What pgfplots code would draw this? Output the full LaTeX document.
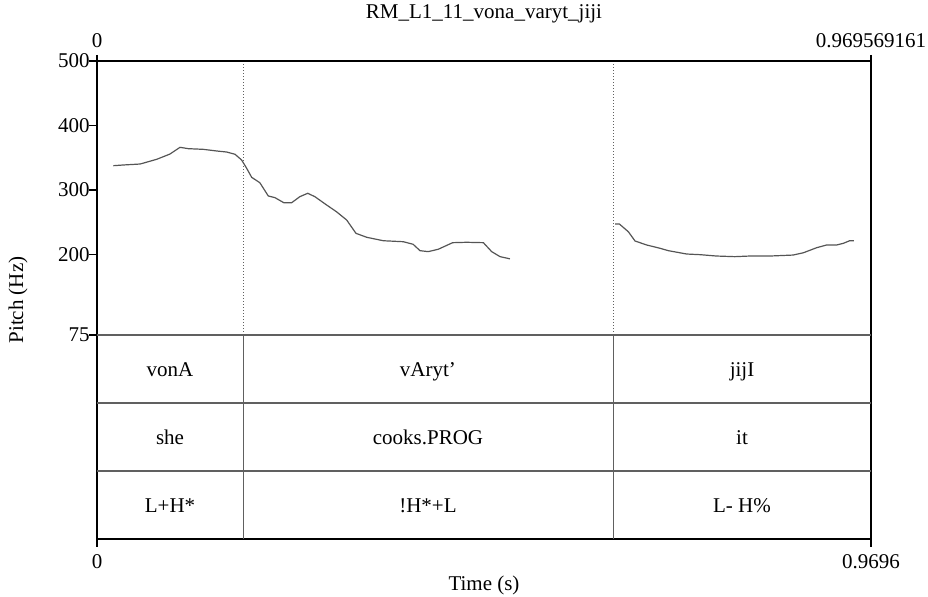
\documentclass[border=0pt]{standalone}
\usepackage{fontspec}
\setmainfont{Liberation Serif}
\usepackage{pgfplots}
\pgfplotsset{compat=1.18}
\definecolor{curve}{HTML}{555555}
\definecolor{tier}{HTML}{606060}
\begin{document}
\fontsize{10.5}{12.6}\selectfont
\begin{tikzpicture}
\useasboundingbox (-48.5pt,-29pt) rectangle (415.5pt,269.5pt);
\begin{axis}[
  at={(0pt,0pt)}, anchor=south west,
  scale only axis, width=387pt, height=239pt,
  xmin=0, xmax=0.969569161, ymin=-241.4, ymax=500,
  clip=false,
  axis line style={black, line width=0.8pt},
  xtick={0,0.969569161}, xticklabels={0,0.9696},
  xtick pos=bottom,
  ytick={75,200,300,400,500}, ytick pos=left,
  tick align=outside, major tick length=4pt,
  tick style={black, line width=0.6pt},
  /pgf/number format/assume math mode=true,
  xticklabel style={font=\fontsize{10.5}{12.6}\selectfont, yshift=0pt},
  yticklabel style={font=\fontsize{10.5}{12.6}\selectfont, xshift=4pt},
  xlabel={Time (s)}, ylabel={Pitch (Hz)},
  xlabel style={at={(axis description cs:0.5,-0.097)}, anchor=center, font=\fontsize{10.5}{12.6}\selectfont},
  ylabel style={at={(axis description cs:-0.102,0.5)}, anchor=center, font=\fontsize{10.5}{12.6}\selectfont},
  title={RM\_L1\_11\_vona\_varyt\_jiji},
  every axis title shift=0pt,
  title style={at={(axis description cs:0.5,1.0983)}, anchor=center, font=\fontsize{10.5}{12.6}\selectfont},
]
% tier horizontal lines
\addplot[tier, line width=0.7pt] coordinates {(0,75) (0.969569161,75)};
\addplot[tier, line width=0.7pt] coordinates {(0,-30.5) (0.969569161,-30.5)};
\addplot[tier, line width=0.7pt] coordinates {(0,-136) (0.969569161,-136)};
% boundaries
\addplot[tier, line width=0.4pt] coordinates {(0.1829,-241.4) (0.1829,75)};
\addplot[tier, line width=0.4pt] coordinates {(0.6464,-241.4) (0.6464,75)};
\addplot[tier, line width=0.5pt, densely dotted] coordinates {(0.1829,75) (0.1829,500)};
\addplot[tier, line width=0.5pt, densely dotted] coordinates {(0.6464,75) (0.6464,500)};
% pitch
\addplot[curve, line width=0.6pt] coordinates {
(0.0204,337.6) (0.033,338.7) (0.054,340.2) (0.0748,347.5) (0.0914,355.7)
(0.104,366.1) (0.1144,364.0) (0.133,363.0) (0.150,360.4) (0.1625,358.8)
(0.1729,355.3) (0.1812,346.4) (0.1875,333.5) (0.1938,319.5) (0.204,311.2)
(0.2146,290.6) (0.223,288.0) (0.234,280.2) (0.2439,280.2) (0.254,289.5)
(0.264,294.8) (0.273,289.5) (0.2877,276.6) (0.300,266.2) (0.3128,253.3)
(0.3244,232.7) (0.338,226.5) (0.3587,221.2) (0.3837,219.7) (0.396,215.7)
(0.4046,205.8) (0.415,204.3) (0.4275,208.0) (0.4455,218.2) (0.463,218.8)
(0.484,218.2) (0.4944,204.3) (0.5048,196.6) (0.5173,193.1)
};
\addplot[curve, line width=0.6pt] coordinates {
(0.6489,247.2) (0.6543,247.2) (0.6656,235.2) (0.674,220.8) (0.6886,214.6)
(0.7053,209.5) (0.7157,205.8) (0.7387,200.6) (0.7554,199.6) (0.776,197.5)
(0.799,196.5) (0.818,197.5) (0.843,197.5) (0.872,199.0) (0.885,202.6)
(0.9015,210.4) (0.914,214.6) (0.9265,214.6) (0.935,217.2) (0.943,221.3)
(0.948,221.3)
};
% tier labels
\tikzset{tl/.style={anchor=base, yshift=-3.6pt, inner sep=0pt}}
\node[tl] at (axis cs:0.0915,22.3) {vonA};
\node[tl] at (axis cs:0.4146,22.3) {vAryt’};
\node[tl] at (axis cs:0.808,22.3) {jijI};
\node[tl] at (axis cs:0.0915,-83.2) {she};
\node[tl] at (axis cs:0.4146,-83.2) {cooks.PROG};
\node[tl] at (axis cs:0.808,-83.2) {it};
\node[tl] at (axis cs:0.0915,-188.7) {L+H*};
\node[tl] at (axis cs:0.4146,-188.7) {!H*+L};
\node[tl] at (axis cs:0.808,-188.7) {L- H\%};
\end{axis}
\begin{axis}[
  at={(0pt,0pt)}, anchor=south west,
  scale only axis, width=387pt, height=239pt,
  xmin=0, xmax=0.969569161, ymin=-241.4, ymax=500,
  axis x line*=top, hide y axis,
  axis line style={black, line width=0.8pt},
  xtick={0,0.969569161}, xticklabels={0,0.969569161},
  tick align=outside, major tick length=3pt,
  tick style={black, line width=0.6pt},
  /pgf/number format/assume math mode=true,
  xticklabel style={font=\fontsize{10.5}{12.6}\selectfont},
]
\end{axis}
\end{tikzpicture}
\end{document}
